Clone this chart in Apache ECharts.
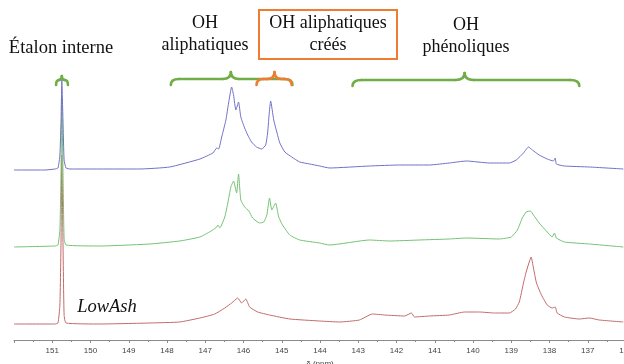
<!DOCTYPE html>
<html>
<head>
<meta charset="utf-8">
<script src="https://cdn.jsdelivr.net/npm/echarts@6/dist/echarts.min.js"></script>
<style>
  html, body { margin: 0; padding: 0; background: #fff; }
  #chart { width: 624px; height: 364px; }
</style>
</head>
<body>
<div id="chart"></div>
<script>
// chemical shift (ppm) and intensity above each trace's own baseline
const ppm_blue = [152.00, 151.19, 150.93, 150.85, 150.80, 150.77, 150.75, 150.72, 150.69, 150.64, 150.54, 149.75,
  148.71, 147.93, 147.14, 146.80, 146.70, 146.65, 146.57, 146.46, 146.39, 146.31, 146.26, 146.20, 146.13, 146.07,
  145.97, 145.89, 145.79, 145.66, 145.52, 145.42, 145.37, 145.32, 145.29, 145.21, 145.13, 145.05, 144.92, 144.74,
  144.53, 144.27, 144.01, 143.75, 142.71, 141.92, 141.14, 140.62, 140.17, 139.57, 139.05, 138.87, 138.68, 138.55,
  138.45, 138.27, 138.06, 137.90, 137.85, 137.82, 137.61, 136.96, 136.07];
const int_blue = [-1, -1, 0, 1, 14, 49, 89, 49, 9, 1, 0, 0,
  0, 2, 10, 16, 21, 20, 32, 49, 66, 82, 74, 59, 67, 52,
  41, 34, 27, 22, 20, 24, 36, 59, 68, 49, 37, 26, 17, 12,
  7, 5, 3, 1, 3, 4, 4, 6, 8, 6, 6, 9, 16, 22,
  19, 14, 10, 8, 11, 5, 3, 2, 0];

const ppm_green = [152.00, 150.93, 150.85, 150.80, 150.77, 150.75, 150.72, 150.69, 150.64, 149.75, 148.45, 147.67,
  147.14, 146.80, 146.70, 146.67, 146.62, 146.49, 146.41, 146.33, 146.26, 146.18, 146.13, 146.07, 145.97, 145.86,
  145.76, 145.58, 145.47, 145.39, 145.32, 145.26, 145.16, 145.08, 144.98, 144.79, 144.53, 144.01, 143.75, 142.71,
  142.18, 141.40, 140.62, 140.17, 139.31, 139.00, 138.84, 138.71, 138.61, 138.50, 138.42, 138.27, 138.06, 137.93,
  137.87, 137.82, 137.61, 136.96, 136.07];
const int_green = [-1, 0, 1, 16, 76, 149, 76, 8, 1, 0, 2, 5,
  9, 16, 19, 21, 18, 29, 43, 59, 65, 53, 72, 46, 39, 35,
  28, 23, 24, 31, 48, 36, 43, 29, 21, 11, 6, 3, 1, 6,
  5, 6, 7, 8, 7, 9, 16, 28, 34, 35, 31, 23, 14, 9,
  13, 8, 4, 2, -1];

const ppm_red = [152.00, 150.93, 150.85, 150.80, 150.77, 150.75, 150.72, 150.69, 150.64, 149.75, 148.45, 147.67,
  147.14, 146.75, 146.49, 146.31, 146.15, 146.05, 145.94, 145.84, 145.63, 145.32, 144.79, 144.01, 143.49, 142.97,
  142.63, 142.31, 141.79, 141.61, 141.53, 141.14, 140.62, 140.22, 139.83, 139.44, 139.05, 138.89, 138.79, 138.68,
  138.61, 138.53, 138.48, 138.42, 138.34, 138.21, 138.06, 137.93, 137.85, 137.80, 137.61, 137.22, 136.96, 136.70,
  136.07];
const int_red = [0, 0, 1, 19, 84, 169, 84, 9, 1, 0, 1, 2,
  6, 10, 16, 21, 26, 21, 25, 17, 12, 9, 5, 3, 2, 4,
  10, 9, 8, 11, 7, 8, 9, 12, 12, 11, 11, 15, 22, 41,
  52, 62, 67, 56, 41, 29, 19, 16, 17, 11, 7, 5, 6, 4,
  2];

// vertical stacking of the three spectra
const offset_blue = 171;
const offset_green = 94;
const offset_red = 16;

const sample_label = "LowAsh";
const x_min = 136;
const x_max = 152;

// bracketed regions: [start ppm, tip ppm, end ppm]
const brace_standard = [150.90, 150.75, 150.59];
const brace_aliphatic = [147.90, 146.33, 144.72];
const brace_created = [145.66, 145.19, 144.74];
const brace_phenolic = [143.15, 140.22, 137.22];

const GREEN = "#70ad47";
const ORANGE = "#ed7d31";
const SERIF = "'Liberation Serif', 'DejaVu Serif', serif";

const toSerie = (ppm, intens, offset, color) => ({
  type: "line",
  symbol: "none",
  clip: false,
  silent: true,
  smooth: 0.15,
  lineStyle: { width: 1, color },
  data: ppm.map((p, i) => [p, intens[i] + offset])
});

const chart = echarts.init(document.getElementById("chart"));
chart.setOption({
  animation: false,
  grid: { left: 14, right: -2, top: 75, bottom: 24, outerBoundsMode: "none", containLabel: false },
  xAxis: {
    type: "value",
    inverse: true,
    min: x_min,
    max: x_max,
    interval: 1,
    name: "δ (ppm)",
    nameLocation: "middle",
    nameGap: 17,
    nameTextStyle: { fontSize: 8, color: "#444", fontFamily: "'Liberation Sans', sans-serif" },
    axisLine: { lineStyle: { color: "#8a8a8a", width: 1 } },
    axisTick: { length: 3, lineStyle: { color: "#8a8a8a" } },
    minorTick: { show: true, splitNumber: 2, length: 2, lineStyle: { color: "#8a8a8a" } },
    splitLine: { show: false },
    axisLabel: {
      showMaxLabel: false,
      hideOverlap: false,
      fontSize: 8,
      margin: 7,
      color: "#444",
      fontFamily: "'Liberation Sans', sans-serif"
    }
  },
  yAxis: { type: "value", min: 0, max: 265, show: false },
  series: [
    toSerie(ppm_red, int_red, offset_red, "#c26a6a"),
    toSerie(ppm_green, int_green, offset_green, "#74c274"),
    toSerie(ppm_blue, int_blue, offset_blue, "#7070c6")
  ]
});

const px = (p) => chart.convertToPixel({ xAxisIndex: 0 }, p);

// a curly bracket made of straight lines and quadratic curves
const brace = (range, yLine, tip, drop, r, color) => {
  const [x1, xm, x2] = range.map(px);
  const style = { fill: null, stroke: color, lineWidth: 2.6, lineCap: "round" };
  const curve = (ax, ay, cx, cy, bx, by) => ({
    type: "bezierCurve", silent: true, style,
    shape: { x1: ax, y1: ay, cpx1: cx, cpy1: cy, x2: bx, y2: by }
  });
  const line = (ax, bx) => ({
    type: "line", silent: true, style,
    shape: { x1: ax, y1: yLine, x2: bx, y2: yLine }
  });
  return [
    curve(x1, yLine + drop, x1, yLine, x1 + r, yLine),
    line(x1 + r, xm - r),
    curve(xm - r, yLine, xm, yLine, xm, yLine - tip),
    curve(xm, yLine - tip, xm, yLine, xm + r, yLine),
    line(xm + r, x2 - r),
    curve(x2 - r, yLine, x2, yLine, x2, yLine + drop)
  ];
};

const label = (text, x, y, size, italic) => ({
  type: "text",
  silent: true,
  style: {
    text, x, y,
    fill: "#111",
    font: `${italic ? "italic " : ""}${size}px ${SERIF}`,
    textAlign: "center",
    textVerticalAlign: "middle"
  }
});

chart.setOption({
  graphic: [
    ...brace(brace_standard, 80, 4, 5, 3, GREEN),
    ...brace(brace_aliphatic, 79, 7, 6, 8, GREEN),
    ...brace(brace_created, 79, 7, 6, 7, ORANGE),
    ...brace(brace_phenolic, 80, 7, 6, 9, GREEN),
    {
      type: "rect",
      silent: true,
      shape: { x: 259, y: 10, width: 138, height: 49 },
      style: { fill: null, stroke: ORANGE, lineWidth: 2 }
    },
    label("Étalon interne", 61, 48, 18.5),
    label("OH", 205, 23, 18),
    label("aliphatiques", 205, 45, 18),
    label("OH aliphatiques", 328, 23, 18),
    label("créés", 328, 45, 18),
    label("OH", 466, 25, 18),
    label("phénoliques", 466, 47, 18),
    label(sample_label, 107, 307, 18.5, true)
  ]
});
</script>
</body>
</html>
